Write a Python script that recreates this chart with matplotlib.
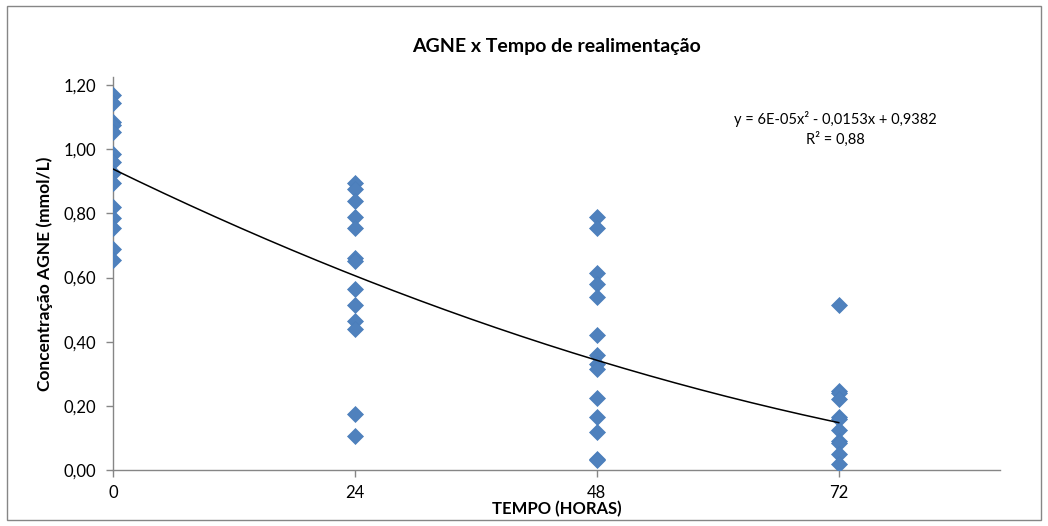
import matplotlib as mpl
mpl.use('Agg')
import matplotlib.pyplot as plt
from matplotlib.patches import Rectangle
from matplotlib.ticker import FuncFormatter
import numpy as np

plt.rcParams['font.family'] = ['Lato', 'DejaVu Sans']

# AGNE values (mmol/L) per refeeding time (hours)
agne_0h = [1.17, 1.145, 1.085, 1.075, 1.055, 0.985, 0.96, 0.925, 0.895,
           0.82, 0.785, 0.755, 0.69, 0.655]
agne_24h = [0.895, 0.875, 0.84, 0.79, 0.755, 0.66, 0.65, 0.565, 0.515,
            0.465, 0.44, 0.175, 0.105]
agne_48h = [0.79, 0.755, 0.615, 0.58, 0.54, 0.42, 0.36, 0.33, 0.315,
            0.225, 0.165, 0.12, 0.035, 0.03]
agne_72h = [0.515, 0.245, 0.24, 0.22, 0.165, 0.16, 0.125, 0.09, 0.085,
            0.05, 0.02]
times = [0, 24, 48, 72]

# polynomial trend line (2nd order) and its R²
trend_coefs = [6e-05, -0.0153, 0.9382]
trend_label = 'y = 6E-05x² - 0,0153x + 0,9382\nR² = 0,88'

x_ticks = [0, 24, 48, 72]
y_ticks = [0.0, 0.2, 0.4, 0.6, 0.8, 1.0, 1.2]

W, H = 1048, 526
fig = plt.figure(figsize=(W / 100, H / 100), dpi=100)
ax = fig.add_axes([113 / W, 1 - 470 / H, (1000 - 113) / W, (470 - 77) / H])

# outer chart border
fig.patches.append(Rectangle((0.007, 0.012), 0.986, 0.976, transform=fig.transFigure,
                             fill=False, edgecolor='#868686', linewidth=1.0))

groups = [agne_0h, agne_24h, agne_48h, agne_72h]
for t, vals in zip(times, groups):
    ax.plot([t] * len(vals), vals, linestyle='none', marker='D', markersize=8,
            markerfacecolor='#4F81BD', markeredgecolor='#4A7EBB',
            markeredgewidth=0.5, zorder=3)

xs = np.linspace(0, 72, 200)
ax.plot(xs, np.polyval(trend_coefs, xs), color='black', linewidth=1.1, zorder=4)

ax.set_xlim(0, 88)
ax.set_ylim(0, 1.225)
ax.set_xticks(x_ticks)
ax.set_yticks(y_ticks)
ax.yaxis.set_major_formatter(FuncFormatter(lambda v, p: f'{v:.2f}'.replace('.', ',')))

for side in ['top', 'right']:
    ax.spines[side].set_visible(False)
for side in ['left', 'bottom']:
    ax.spines[side].set_color('#868686')
    ax.spines[side].set_linewidth(1.0)
ax.tick_params(axis='both', color='#868686', length=5, width=1.0,
               labelsize=12, labelcolor='black')
ax.tick_params(axis='y', pad=7)
ax.tick_params(axis='x', pad=6)

ax.set_title('AGNE x Tempo de realimentação', fontsize=14, fontweight='bold', pad=18)
ax.set_xlabel('TEMPO (HORAS)', fontsize=12, fontweight='bold', labelpad=0)
ax.set_ylabel('Concentração AGNE (mmol/L)', fontsize=12.5, fontweight='bold', labelpad=8)

fig.text(835 / W, 1 - 129 / H, trend_label, fontsize=10.5, ha='center', va='center',
         linespacing=1.45)

fig.savefig('out.png', dpi=100)
